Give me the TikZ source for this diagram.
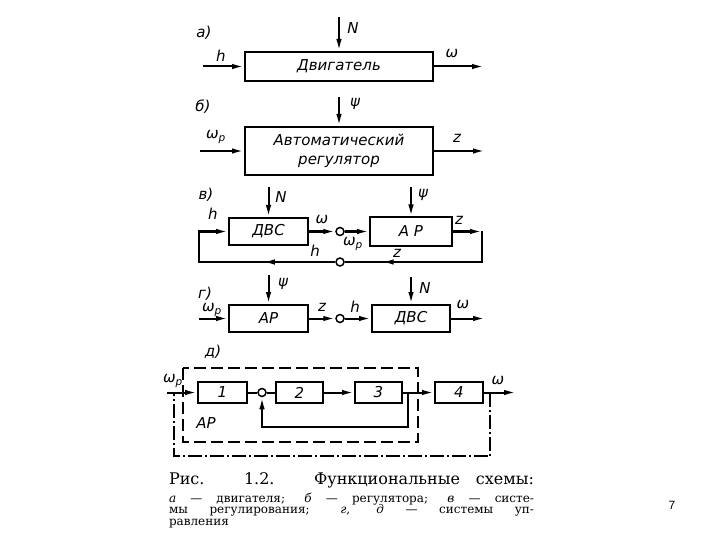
\documentclass[tikz,border=0pt]{standalone}
\usepackage{fontspec}
\setmainfont{DejaVu Serif}
\newfontfamily\drawfont{DejaVu Sans}
\newfontfamily\pagefont{Liberation Sans}
\usetikzlibrary{arrows.meta,decorations.markings}
\newcommand{\wsub}{ω\textsubscript{p}}

\begin{document}
\begin{tikzpicture}[x=1pt,y=-1pt,>={Latex[length=12pt,width=5.5pt]},line width=2pt,
    blk/.style={draw,line width=2pt,inner sep=0pt,font=\drawfont\itshape\fontsize{15}{18}\selectfont},
    lbl/.style={inner sep=0pt,font=\drawfont\itshape\fontsize{15}{17}\selectfont},
    sum/.style={draw,circle,fill=white,line width=1.5pt,minimum size=8pt,inner sep=0pt},
    arrowat/.style={postaction={decorate},decoration={markings,mark=at position #1 with {\arrow{Latex[length=12pt,width=5.5pt]}}}},
    arframe/.style={line width=1.6pt,dash pattern=on 12pt off 5pt},
    dashdot/.style={line width=2pt,dash pattern=on 14pt off 3pt on 2pt off 3pt}]
        \path[fill=white] (0,0) rectangle (720,540);
        \useasboundingbox (0,0) rectangle (720,540);

        % a) engine
        \node[lbl] (la) at (204,33) {а)};
        \node[blk,minimum width=188pt,minimum height=29pt] (dvig) at (339,66.5) {Двигатель};
        \coordinate (Na) at (339,17);
        \coordinate (hin) at (203,66.5);
        \coordinate (wout) at (484,66.5);
        \draw[->] (Na) -- (dvig);
        \draw[->] (hin) -- (dvig);
        \draw[->] (dvig) -- (wout);
        \node[lbl] (lNa) at (353,28) {N};
        \node[lbl] (lha) at (221,56) {h};
        \node[lbl] (lwa) at (452,54) {ω};

        % b) regulator
        \node[lbl] (lb) at (203,107) {б)};
        \node[blk,minimum width=188pt,minimum height=48pt,align=center] (areg) at (339,151) {Автоматический\\[1pt]регулятор};
        \coordinate (psib) at (339,97);
        \coordinate (wpin) at (200,151);
        \coordinate (zout) at (485,151);
        \draw[->] (psib) -- (areg);
        \draw[->] (wpin) -- (areg);
        \draw[->] (areg) -- (zout);
        \node[lbl] (lpsib) at (355,104) {ψ};
        \node[lbl] (lwpb) at (216,137) {\wsub};
        \node[lbl] (lzb) at (457,138) {z};

        % v) closed loop
        \node[lbl] (lv) at (206,195) {в)};
        \node[blk,minimum width=79pt,minimum height=27pt] (dvsv) at (268.5,231.5) {ДВС};
        \node[sum] (sv1) at (340,231.5) {};
        \node[blk,minimum width=82pt,minimum height=28pt] (arv) at (411,231.5) {А Р};
        \node[sum] (sv2) at (340,262) {};
        \coordinate (Nv) at (268.5,187);
        \coordinate (psiv) at (411,187);
        \coordinate (vr1) at (482,231.5);
        \coordinate (vr2) at (482,262);
        \coordinate (vl2) at (199,262);
        \coordinate (vl1) at (199,231.5);
        \draw[->] (Nv) -- (dvsv);
        \draw[->] (psiv) -- (arv);
        \draw[->] (dvsv) -- (sv1);
        \draw[->] (sv1) -- (arv);
        \draw[->] (arv) -- (vr1);
        \draw[arrowat=0.78] (vr1) -- (vr2) -- (sv2);
        \draw[->,arrowat=0.37] (sv2) -- (vl2) -- (vl1) -- (dvsv);
        \node[lbl] (lNv) at (281,197) {N};
        \node[lbl] (lpsiv) at (423,195) {ψ};
        \node[lbl] (lhv) at (213,214) {h};
        \node[lbl] (lwv) at (322,220) {ω};
        \node[lbl] (lwpv) at (353,244) {\wsub};
        \node[lbl] (lzv) at (459,220) {z};
        \node[lbl] (lzv2) at (397,253) {z};
        \node[lbl] (lhv2) at (315,251) {h};

        % g) control chain
        \node[lbl] (lg) at (205,294) {г)};
        \node[blk,minimum width=79pt,minimum height=27pt] (arg) at (268.5,318.5) {АР};
        \node[sum] (sg) at (340,318.5) {};
        \node[blk,minimum width=78pt,minimum height=27pt] (dvsg) at (411,318.5) {ДВС};
        \coordinate (psig) at (268.5,275);
        \coordinate (Ng) at (411,277);
        \coordinate (wpg) at (199,318.5);
        \coordinate (wg) at (485,318.5);
        \draw[->] (psig) -- (arg);
        \draw[->] (Ng) -- (dvsg);
        \draw[->] (wpg) -- (arg);
        \draw[->] (arg) -- (sg);
        \draw[->] (sg) -- (dvsg);
        \draw[->] (dvsg) -- (wg);
        \node[lbl] (lpsig) at (283,284) {ψ};
        \node[lbl] (lNg) at (425,288) {N};
        \node[lbl] (lwpg) at (212,310) {\wsub};
        \node[lbl] (lzg) at (322,307) {z};
        \node[lbl] (lhg) at (355,307) {h};
        \node[lbl] (lwg) at (463,305) {ω};

        % d) blocks 1-4
        \node[lbl] (ld) at (213,352) {д)};
        \draw[arframe] (183,368) rectangle (418,442);
        \node[blk,minimum width=49pt,minimum height=21pt] (b1) at (222.5,392.5) {1};
        \node[sum] (sd) at (262,392.5) {};
        \node[blk,minimum width=47pt,minimum height=21pt] (b2) at (299.5,392.5) {2};
        \node[blk,minimum width=47pt,minimum height=21pt] (b3) at (378.5,392.5) {3};
        \node[blk,minimum width=48pt,minimum height=21pt] (b4) at (459,392.5) {4};
        \coordinate (wpd) at (167,392.5);
        \coordinate (wd) at (516,392.5);
        \coordinate (tapin) at (408,392.5);
        \coordinate (fbr) at (408,427);
        \coordinate (fbl) at (262,427);
        \coordinate (tapout) at (490,392.5);
        \coordinate (ol1) at (490,456);
        \coordinate (ol2) at (174,456);
        \coordinate (ol3) at (174,392.5);
        \draw[->] (wpd) -- (b1);
        \draw (b1) -- (sd);
        \draw (sd) -- (b2);
        \draw[->] (b2) -- (b3);
        \draw[->] (b3) -- (b4);
        \draw[->] (b4) -- (wd);
        \draw[->] (tapin) -- (fbr) -- (fbl) -- (sd);
        \draw[dashdot] (tapout) -- (ol1) -- (ol2) -- (ol3);
        \node[lbl] (lwpd) at (173,381) {\wsub};
        \node[lbl] (lwd) at (498,381) {ω};
        \node[lbl] (lard) at (206,423) {АР};

        % caption
        \node[anchor=west,inner sep=0pt,font=\fontsize{16}{18}\selectfont] (cap1) at (168,480) {\makebox[365pt][s]{Рис. 1.2. Функциональные схемы:}};
        \node[anchor=base west,inner sep=0pt,font=\fontsize{12}{12}\selectfont] (cap2) at (168,502) {\makebox[365pt][s]{\textit{а} — двигателя; \textit{б} — регулятора; \textit{в} — систе-}};
        \node[anchor=base west,inner sep=0pt,font=\fontsize{12}{12}\selectfont] (cap3) at (168,513.5) {\makebox[365pt][s]{мы регулирования; \textit{г}, \textit{д} — системы уп-}};
        \node[anchor=base west,inner sep=0pt,font=\fontsize{12}{12}\selectfont] (cap4) at (168,525) {равления};
        \node[font=\pagefont\fontsize{12}{14}\selectfont] (pg) at (672,505) {7};
    \end{tikzpicture}
\end{document}
